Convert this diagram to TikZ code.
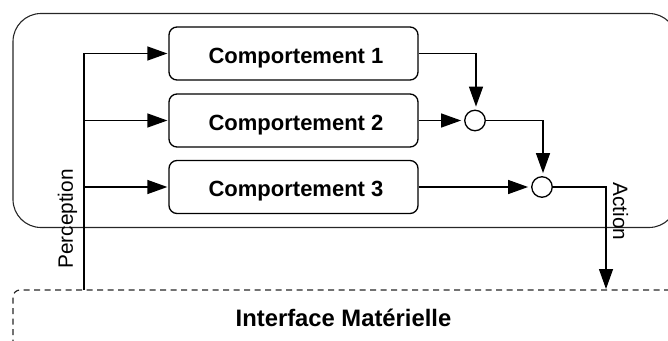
\documentclass[tikz,border=0pt]{standalone}
\usepackage{fontspec}
\setmainfont{Liberation Sans}
\usetikzlibrary{arrows.meta,calc}
\tikzset{
  x=1pt,y=-1pt,
  outerbox/.style={draw=black!85,line width=1.1pt,rounded corners=28pt,minimum width=664pt,minimum height=214pt,inner sep=0pt},
  hwbox/.style={draw=black!85,line width=1.2pt,dash pattern=on 6pt off 4.5pt,rounded corners=7pt,minimum width=664pt,minimum height=100pt,inner sep=0pt},
  behav/.style={draw=black,line width=1.3pt,rounded corners=8pt,minimum width=249pt,minimum height=53pt,inner sep=0pt,text height=19pt,text depth=0pt,font=\fontsize{22}{26}\selectfont\bfseries},
  junction/.style={draw=black,line width=1.3pt,circle,minimum size=20.5pt,inner sep=0pt},
  flow/.style={draw=black,line width=1.3pt,-{Triangle[length=20pt,width=14pt]},shorten >=3pt},
  sidelabel/.style={font=\fontsize{20.8}{24}\selectfont,inner sep=0pt},
}
\begin{document}
\begin{tikzpicture}
\useasboundingbox (0,0) rectangle (668,340);
\clip (0,0) rectangle (668,340);
\node[outerbox] (agent) at (345,120.5) {};
\node[hwbox] (hw) at (345,340) {};
\node[font=\fontsize{23.8}{28}\selectfont\bfseries] (hwlabel) at (343.5,318) {Interface Matérielle};
\node[behav] (c1) at (293.5,53.5) {\hspace*{5pt}Comportement 1};
\node[behav] (c2) at (293.5,120.5) {\hspace*{5pt}Comportement 2};
\node[behav] (c3) at (293.5,187) {\hspace*{5pt}Comportement 3};
\node[junction] (j1) at (475,120.5) {};
\node[junction] (j2) at (542,187) {};
\coordinate (trunkbase) at (84,290);
\coordinate (actionend) at (606,290);
\draw[flow,shorten >=1pt] (trunkbase) |- (c1.west);
\draw[flow,shorten >=1pt] (trunkbase |- c2.west) -- (c2.west);
\draw[flow,shorten >=1pt] (trunkbase |- c3.west) -- (c3.west);
\draw[flow] (c1.east) -| ($(j1.north)+(1,0)$);
\draw[flow] (c2.east) -- (j1.west);
\draw[flow] (j1.east) -| ($(j2.north)+(1,0)$);
\draw[flow] (c3.east) -- (j2.west);
\draw[flow,shorten >=1pt] (j2.east) -| (actionend);
\node[sidelabel,rotate=90] (perc) at (67.5,219) {Perception};
\node[sidelabel,rotate=-90] (act) at (620.5,211.5) {Action};
\end{tikzpicture}
\end{document}
